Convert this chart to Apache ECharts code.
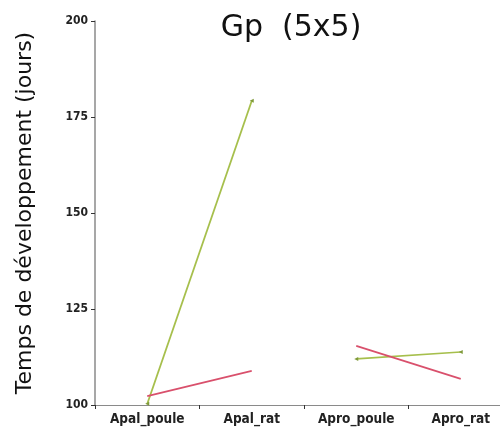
<!DOCTYPE html>
<html><head><meta charset="utf-8">
<script src="https://cdn.jsdelivr.net/npm/echarts@6/dist/echarts.min.js"></script>
<style>html,body{margin:0;padding:0;background:#fff}#c{width:500px;height:430px}</style>
</head><body><div id="c"></div>
<script>
const categories = ['Apal_poule', 'Apal_rat', 'Apro_poule', 'Apro_rat'];
const greenApal = [100.3, 179.2, null, null];
const greenApro = [null, null, 112.0, 113.8];
const redApal = [102.3, 108.9, null, null];
const redApro = [null, null, 115.4, 106.8];
const yTicks = [100, 125, 150, 175, 200];

const green = '#a6bf4c', red = '#d9506c';
const chart = echarts.init(document.getElementById('c'), null, {renderer: 'canvas'});
const mk = (data, color, sym) => ({
  type: 'line', data: data, connectNulls: false, animation: false,
  lineStyle: {color: color, width: 1.7},
  itemStyle: {color: color === green ? '#7f9a3a' : color},
  symbol: sym ? 'triangle' : 'none', symbolSize: 4, showSymbol: sym, symbolRotate: 90
});
chart.setOption({
  backgroundColor: '#fff',
  title: {text: 'Gp  (5x5)', left: 286, textAlign: 'center', top: 8,
    textStyle: {fontFamily: 'DejaVu Sans', fontWeight: 'normal', fontSize: 30, color: '#111'}},
  grid: {left: 95, top: 21, bottom: 25, width: 418, outerBoundsMode: 'none', containLabel: false},
  xAxis: {type: 'category', data: categories, boundaryGap: true,
    axisLine: {lineStyle: {color: '#8a8a8a', width: 1}},
    axisTick: {show: true, length: 4, lineStyle: {color: '#333'}},
    axisLabel: {margin: 7, fontFamily: 'DejaVu Sans Condensed', fontWeight: 'bold', fontSize: 13.5, color: '#222'}},
  yAxis: {type: 'value', min: yTicks[0], max: yTicks[yTicks.length-1], interval: 25,
    name: 'Temps de développement (jours)', nameLocation: 'middle', nameGap: 59,
    nameTextStyle: {fontFamily: 'DejaVu Sans', fontSize: 22, color: '#111'},
    axisLine: {show: true, lineStyle: {color: '#8a8a8a', width: 1.5}},
    axisTick: {show: true, length: 4, lineStyle: {color: '#333'}},
    splitLine: {show: false},
    axisLabel: {margin: 7, fontFamily: 'DejaVu Sans Condensed', fontWeight: 'bold', fontSize: 12, color: '#222'}},
  series: [mk(greenApal, green, true), mk(greenApro, green, true), mk(redApal, red, false), mk(redApro, red, false)]
});
</script></body></html>
